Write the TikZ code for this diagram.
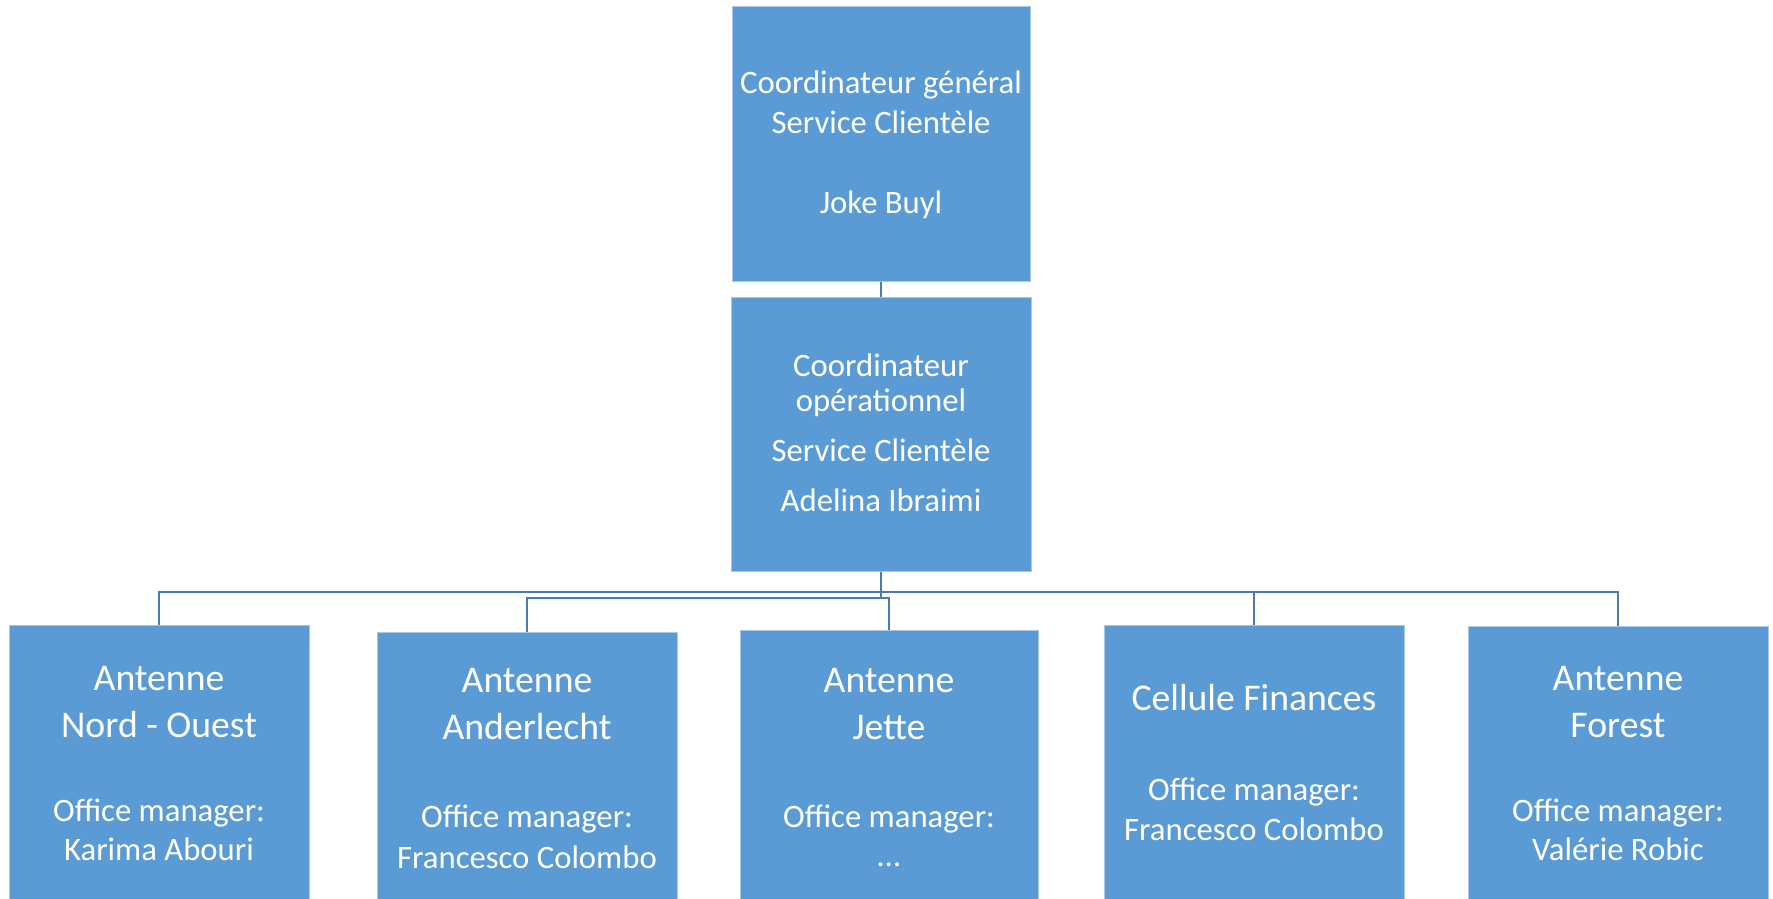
\documentclass[tikz,border=0pt]{standalone}
\usepackage{fontspec}
\setmainfont{Carlito}
\definecolor{boxblue}{HTML}{5B9BD5}
\definecolor{boxedge}{HTML}{A9C8E8}
\definecolor{linkblue}{HTML}{4A7AB0}
\begin{document}
\begin{tikzpicture}[x=1pt,y=-1pt,
  box/.style={draw=boxedge, line width=1pt, fill=boxblue, minimum width=300pt, minimum height=274pt, inner sep=0pt},
  txt/.style={text=white, inner sep=0pt, anchor=base, font=\fontsize{32.7}{40}\selectfont},
  big/.style={txt, font=\fontsize{37.7}{46}\selectfont},
  conn/.style={draw=linkblue, line width=1.6pt}]
\useasboundingbox (0,0) rectangle (1773,899);
\clip (0,0) rectangle (1773,899);
% boxes
\node[box, minimum width=298pt] (b0) at (881,144) {};
\node[box] (b1) at (881,434) {};
\node[box] (n1) at (159,762) {};
\node[box] (n2) at (527,769) {};
\node[box, minimum width=298pt] (n3) at (889,767) {};
\node[box] (n4) at (1254,762) {};
\node[box] (n5) at (1618,763) {};
% junction levels
\coordinate (h1) at (0,592);
\coordinate (h2) at (0,598);
% connectors
\draw[conn] (b0.south) -- (b1.north);
\draw[conn] (b1.south) -- (b1.south |- h1) -| (n1.north);
\draw[conn] (b1.south) -- (b1.south |- h1) -| (n4.north);
\draw[conn] (b1.south) -- (b1.south |- h1) -| (n5.north);
\draw[conn] (b1.south) -- (b1.south |- h2) -| (n2.north);
\draw[conn] (b1.south) -- (b1.south |- h2) -| (n3.north);
% texts
\node[txt] (b0a) at (881,93.5) {Coordinateur général};
\node[txt] (b0b) at (881,133) {Service Clientèle};
\node[txt] (b0c) at (881,213) {Joke Buyl};
\node[txt] (b1a) at (881,376) {Coordinateur};
\node[txt] (b1b) at (881,411) {opérationnel};
\node[txt] (b1c) at (881,461) {Service Clientèle};
\node[txt] (b1d) at (881,511) {Adelina Ibraimi};
\node[big] (n1a) at (159,690.5) {Antenne};
\node[big] (n1b) at (159,737.5) {Nord - Ouest};
\node[txt] (n1c) at (159,821) {Office manager:};
\node[txt] (n1d) at (159,860) {Karima Abouri};
\node[big] (n2a) at (527,692.5) {Antenne};
\node[big] (n2b) at (527,739.5) {Anderlecht};
\node[txt] (n2c) at (527,827) {Office manager:};
\node[txt] (n2d) at (527,868) {Francesco Colombo};
\node[big] (n3a) at (889,692.5) {Antenne};
\node[big] (n3b) at (889,739.5) {Jette};
\node[txt] (n3c) at (889,827) {Office manager:};
\node[txt] (n3d) at (889,866) {…};
\node[big] (n4a) at (1254,710.5) {Cellule Finances};
\node[txt] (n4c) at (1254,800) {Office manager:};
\node[txt] (n4d) at (1254,840) {Francesco Colombo};
\node[big] (n5a) at (1618,690.5) {Antenne};
\node[big] (n5b) at (1618,737.5) {Forest};
\node[txt] (n5c) at (1618,821) {Office manager:};
\node[txt] (n5d) at (1618,860) {Valérie Robic};
\end{tikzpicture}
\end{document}
